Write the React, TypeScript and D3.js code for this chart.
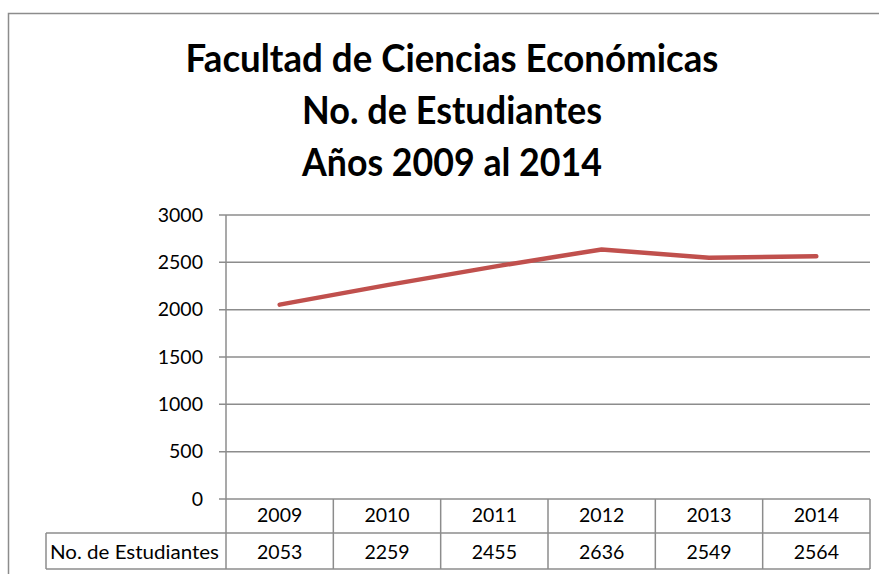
import * as d3 from 'd3';

const years = ['2009', '2010', '2011', '2012', '2013', '2014'];
const students = [2053, 2259, 2455, 2636, 2549, 2564];
const yTicks = [0, 500, 1000, 1500, 2000, 2500, 3000];
const titleLines = ['Facultad de Ciencias Económicas', 'No. de Estudiantes', 'Años 2009 al 2014'];
const seriesName = 'No. de Estudiantes';

const W = 879;
const H = 574;
const plot = { left: 226, right: 870, top: 215, bottom: 499 };
const rowH = { header: 34, data: 36 };
const labelLeft = 46;
const gridColor = '#8c8c8c';
const lineColor = '#c0504d';
const font = 'Lato, "Open Sans", sans-serif';
const small = 19.5;

export default function App() {
  const x = d3.scaleBand<string>().domain(years).range([plot.left, plot.right]);
  const y = d3.scaleLinear().domain([0, 3000]).range([plot.bottom, plot.top]);

  const line = d3
    .line<number>()
    .x((_, i) => (x(years[i]) ?? 0) + x.bandwidth() / 2)
    .y(d => y(d));

  const headerBottom = plot.bottom + rowH.header;
  const tableBottom = headerBottom + rowH.data;
  const titleWidths = [533, 300, 300];

  return (
    <svg
      width={W}
      height={H}
      style={{ position: 'absolute', left: 0, top: 0, background: '#fff' }}
      fontFamily={font}
    >
      {/* outer chart border, runs off the right and bottom */}
      <path d={`M8.5,${H + 5} V13.5 H${W + 5}`} fill="none" stroke={gridColor} strokeWidth={1.5} />

      {titleLines.map((t, i) => (
        <text
          key={t}
          x={452}
          y={72 + i * 52}
          textAnchor="middle"
          fontSize={39}
          fontWeight={700}
          textLength={titleWidths[i]}
          lengthAdjust="spacingAndGlyphs"
          fill="#000"
        >
          {t}
        </text>
      ))}

      {/* grid lines + ticks */}
      {yTicks.map(t => (
        <g key={t}>
          <line x1={plot.left - 7} x2={plot.right} y1={y(t)} y2={y(t)} stroke={gridColor} strokeWidth={1.5} />
          <text x={203} y={y(t)} dy="0.35em" textAnchor="end" fontSize={small} fill="#000">
            {t}
          </text>
        </g>
      ))}

      {/* value axis line */}
      <line x1={plot.left} x2={plot.left} y1={plot.top} y2={tableBottom} stroke={gridColor} strokeWidth={1.5} />

      {/* data table */}
      <line x1={labelLeft} x2={plot.right} y1={headerBottom} y2={headerBottom} stroke={gridColor} strokeWidth={1.5} />
      <line x1={labelLeft} x2={plot.right} y1={tableBottom} y2={tableBottom} stroke={gridColor} strokeWidth={1.5} />
      <line x1={labelLeft} x2={labelLeft} y1={headerBottom} y2={tableBottom} stroke={gridColor} strokeWidth={1.5} />
      {years.map(yr => (
        <line
          key={yr}
          x1={(x(yr) ?? 0) + x.bandwidth()}
          x2={(x(yr) ?? 0) + x.bandwidth()}
          y1={plot.bottom}
          y2={tableBottom}
          stroke={gridColor}
          strokeWidth={1.5}
        />
      ))}
      {years.map((yr, i) => (
        <g key={'t' + yr} fontSize={small} textAnchor="middle" fill="#000">
          <text x={(x(yr) ?? 0) + x.bandwidth() / 2} y={522}>{yr}</text>
          <text x={(x(yr) ?? 0) + x.bandwidth() / 2} y={559}>{students[i]}</text>
        </g>
      ))}
      <text
        x={labelLeft + 4}
        y={559}
        fontSize={small}
        textLength={169}
        lengthAdjust="spacingAndGlyphs"
        fill="#000"
      >
        {seriesName}
      </text>

      <path
        d={line(students) ?? ''}
        fill="none"
        stroke={lineColor}
        strokeWidth={4.5}
        strokeLinecap="round"
        strokeLinejoin="round"
      />
    </svg>
  );
}
